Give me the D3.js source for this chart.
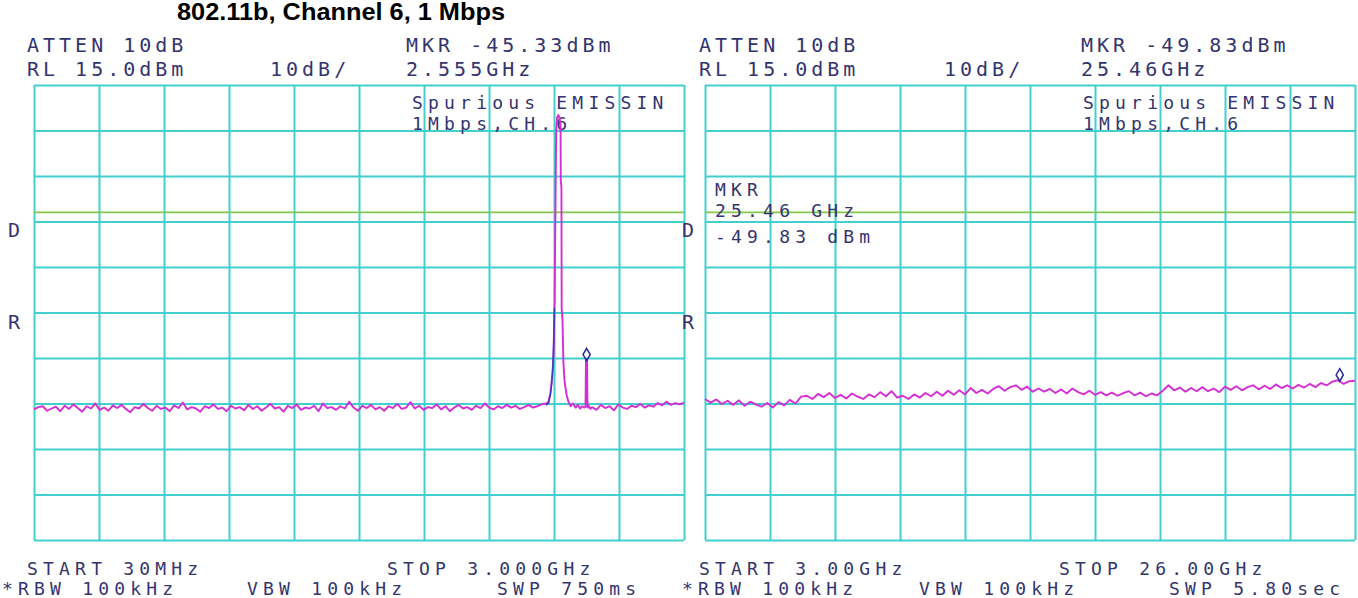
<!DOCTYPE html>
<html>
<head>
<meta charset="utf-8">
<script src="https://cdn.jsdelivr.net/npm/d3@7"></script>
<style>
  body { margin: 0; background: #fff; }
  .scr { font-family: "DejaVu Sans Mono", monospace; font-size: 20px; letter-spacing: 4px; fill: #34346f; }
  .tight { font-size: 18px; letter-spacing: 5.2px; }
</style>
</head>
<body>
<div id="chart"></div>
<script>
// Left sweep: 30 MHz - 3 GHz, noise floor read every 20 MHz (dBm).
const leftFloorStart = 30, leftFloorStep = 20;
const leftFloor = [
  -56.3,-55.8,-55.6,-56.6,-56.1,-55.7,-56.7,-55.5,-56.2,-55.2,
  -56.0,-56.8,-55.6,-56.1,-55.0,-56.4,-55.9,-56.6,-55.4,-56.0,
  -55.3,-56.2,-56.9,-55.8,-56.1,-55.1,-56.0,-56.6,-55.5,-56.2,
  -55.9,-56.7,-55.4,-56.0,-54.8,-56.3,-55.8,-56.1,-56.8,-55.6,
  -56.0,-55.2,-56.2,-55.9,-56.7,-55.5,-56.1,-55.8,-56.5,-55.3,
  -56.2,-55.6,-56.6,-55.9,-55.1,-56.1,-55.8,-56.8,-55.5,-56.0,
  -55.2,-56.4,-55.9,-56.1,-55.5,-56.7,-55.0,-56.0,-55.8,-56.4,
  -55.6,-56.1,-54.6,-55.9,-56.6,-55.5,-56.0,-55.3,-56.3,-55.8,
  -56.6,-55.6,-56.0,-55.1,-56.2,-55.9,-54.7,-56.1,-55.5,-56.4,
  -55.8,-56.0,-55.2,-56.3,-55.6,-56.7,-55.9,-55.3,-56.1,-55.8,
  -56.4,-55.5,-56.0,-55.0,-55.9,-56.3,-55.6,-56.0,-55.3,-55.9,
  -55.5,-56.2,-55.8,-55.3,-55.9,-55.6,-55.2,-55.0
];

// Channel 6 carrier and the marked spur, [MHz, dBm].
const leftCarrier = [
  [2381,-54.6],[2390,-52.5],[2399,-48.5],[2404,-44],[2409,-32],[2413,-10],
  [2416,5],[2420,7.8],[2426,8.4],[2432,7.6],[2436,6],[2437,-6],[2440,-7.5],
  [2441,-34],[2445,-37],[2449,-46],[2454,-50],[2463,-53],[2472,-54.6],
  [2482,-55.6],[2492,-55.0],[2505,-55.9],[2515,-55.3],[2525,-56.1],
  [2535,-55.6],[2545,-55.9],[2550,-55.7],[2552,-45.3],[2557,-45.3],
  [2559,-55.9],[2565,-55.5],[2572,-56.2]
];

// Clear-write trace, visible on the carrier's rising edge.
const leftEdge = [
  [2370,-55.4],[2381,-54.9],[2390,-53],[2396,-50.5],[2401,-46.5],[2405,-41],[2408,-34]
];

const leftTailStart = 2580, leftTailStep = 20;
const leftTail = [
  -55.8,-56.4,-55.3,-56.0,-55.6,-56.5,-55.2,-55.9,-56.2,-55.5,
  -55.8,-55.1,-55.9,-55.4,-55.7,-54.9,-55.4,-54.6,-55.3,-54.9,
  -55.2,-54.8
];

// Right sweep: 3 - 26 GHz, read every 0.2 GHz (dBm).
const rightStart = 3.0, rightStep = 0.2;
const rightTrace = [
  -54.0,-54.8,-54.1,-55.1,-54.4,-55.3,-54.3,-55.5,-54.6,-55.2,
  -55.7,-54.9,-55.9,-54.7,-55.4,-54.2,-55.0,-53.5,-53.3,-54.0,
  -52.9,-53.6,-52.7,-53.8,-53.1,-53.9,-52.8,-53.5,-54.0,-53.0,
  -53.6,-52.5,-53.4,-52.3,-53.7,-53.3,-54.0,-53.0,-53.7,-52.7,
  -53.4,-52.4,-53.3,-52.2,-53.1,-52.1,-53.0,-51.6,-52.7,-52.0,
  -52.8,-51.8,-51.2,-52.2,-51.4,-51.0,-52.0,-51.3,-52.4,-51.7,
  -52.4,-51.8,-52.7,-51.9,-52.8,-51.7,-52.5,-53.0,-52.2,-53.1,
  -52.5,-53.2,-52.6,-53.3,-52.7,-52.3,-53.2,-52.6,-53.4,-52.8,
  -53.2,-52.2,-51.0,-52.1,-51.5,-52.4,-51.6,-52.3,-51.4,-52.3,
  -51.7,-52.5,-51.3,-52.0,-51.2,-52.1,-51.4,-51.0,-51.9,-51.1,
  -51.8,-50.8,-51.6,-51.0,-51.7,-50.9,-51.5,-50.7,-51.4,-50.5,
  -51.0,-50.2,-49.9,-50.7,-50.1,-50.0
];

// Instrument settings and markers.
const refLevel = 15, dbPerDiv = 10, divisions = 10;
const displayLine = -13;
const leftMarker = [2555, -45.33];
const rightMarker = [25.46, -49.83];

// Screen annotations.
const leftHeader = ["ATTEN 10dB", "RL 15.0dBm", "10dB/", "MKR -45.33dBm", "2.555GHz"];
const rightHeader = ["ATTEN 10dB", "RL 15.0dBm", "10dB/", "MKR -49.83dBm", "25.46GHz"];
const screenNote = ["Spurious EMISSIN", "1Mbps,CH.6"];
const leftFooter = ["START 30MHz", "STOP 3.000GHz", "*RBW 100kHz", "VBW 100kHz", "SWP 750ms"];
const rightFooter = ["START 3.00GHz", "STOP 26.00GHz", "*RBW 100kHz", "VBW 100kHz", "SWP 5.80sec"];
const rightReadout = ["MKR", "25.46 GHz", "-49.83 dBm"];
const sideLabels = ["D", "R"];
const title = "802.11b, Channel 6, 1 Mbps";

// Layout.
const width = 1358, height = 598;
const gridTop = 85, gridBottom = 540;
const gridColor = "#42cfcf", traceColor = "#d42ed4";

let svg = d3.select("#chart")
.append("svg")
.attr("width", width)
.attr("height", height);

svg.append("rect").attr("width", width).attr("height", height).style("fill", "#fff");

let y = d3.scaleLinear()
.domain([refLevel, refLevel - dbPerDiv * divisions])
.range([gridTop, gridBottom]);

const panels = [
  {
    x0: 34, x1: 684, domain: [30, 3000],
    points: leftFloor.map((v, i) => [leftFloorStart + i * leftFloorStep, v])
      .concat(leftCarrier, leftTail.map((v, i) => [leftTailStart + i * leftTailStep, v])),
    edge: leftEdge, marker: leftMarker,
    header: leftHeader, headerPos: [[27,52],[27,76],[270,76],[406,52],[406,76]],
    notePos: [[412,109],[412,130]],
    footer: leftFooter, footerPos: [[27,575],[387,575],[2,595],[247,595],[497,595]],
    sidePos: [[8,237],[8,329]]
  },
  {
    x0: 705, x1: 1355, domain: [3, 26],
    points: rightTrace.map((v, i) => [rightStart + i * rightStep, v]),
    edge: null, marker: rightMarker,
    header: rightHeader, headerPos: [[699,52],[699,76],[944,76],[1081,52],[1081,76]],
    notePos: [[1083,109],[1083,130]],
    footer: rightFooter, footerPos: [[699,575],[1059,575],[682,595],[919,595],[1169,595]],
    sidePos: [[682,237],[682,329]]
  }
];

// Title over the left screen.
svg.append("text")
.attr("x", 177)
.attr("y", 20)
.attr("textLength", 328)
.attr("lengthAdjust", "spacingAndGlyphs")
.style("font-family", "'Liberation Sans', Arial, sans-serif")
.style("font-weight", "bold")
.style("font-size", "23px")
.style("fill", "#000")
.text(title);

panels.forEach(p => {
  let x = d3.scaleLinear().domain(p.domain).range([p.x0, p.x1]);
  let g = svg.append("g");

  // Graticule: 10 x 10 divisions.
  let xTicks = d3.range(divisions + 1).map(k => p.domain[0] + k * (p.domain[1] - p.domain[0]) / divisions);
  let yTicks = d3.range(divisions + 1).map(k => refLevel - k * dbPerDiv);

  g.append("g")
  .attr("transform", "translate(0," + gridBottom + ")")
  .call(d3.axisBottom(x).tickValues(xTicks).tickSize(-(gridBottom - gridTop)).tickFormat(""))
  .select(".domain").remove();

  g.append("g")
  .attr("transform", "translate(" + p.x0 + ",0)")
  .call(d3.axisLeft(y).tickValues(yTicks).tickSize(-(p.x1 - p.x0)).tickFormat(""))
  .select(".domain").remove();

  g.selectAll(".tick line")
  .attr("stroke", gridColor)
  .attr("stroke-width", 2);

  // Display line.
  g.append("line")
  .attr("x1", p.x0).attr("x2", p.x1)
  .attr("y1", y(displayLine)).attr("y2", y(displayLine))
  .attr("stroke", "#82c84a")
  .attr("stroke-width", 1.6);

  // Annotations.
  const addText = (list, pos, cls) => {
    g.selectAll(null)
    .data(list)
    .enter()
    .append("text")
    .attr("class", cls)
    .attr("x", (d, i) => pos[i][0])
    .attr("y", (d, i) => pos[i][1])
    .text(d => d);
  };
  addText(p.header, p.headerPos, "scr");
  addText(screenNote, p.notePos, "scr tight");
  addText(p.footer, p.footerPos, "scr tight");
  addText(sideLabels, p.sidePos, "scr");

  // Trace.
  let line = d3.line().x(d => x(d[0])).y(d => y(d[1]));

  g.append("path")
  .datum(p.points)
  .attr("d", line)
  .attr("fill", "none")
  .attr("stroke", traceColor)
  .attr("stroke-width", 1.9)
  .attr("stroke-linejoin", "round");

  if (p.edge) {
    g.append("path")
    .datum(p.edge)
    .attr("d", line)
    .attr("fill", "none")
    .attr("stroke", "#3a3ab4")
    .attr("stroke-width", 1.4);
  }

  // Marker diamond sits just above the marked point.
  g.append("path")
  .attr("d", d3.symbol().type(d3.symbolDiamond).size(45))
  .attr("transform", "translate(" + x(p.marker[0]) + "," + (y(p.marker[1]) - 5) + ")")
  .attr("fill", "none")
  .attr("stroke", "#2a2a9a")
  .attr("stroke-width", 1.5);
});

// Marker readout on the right screen.
svg.selectAll(null)
.data(rightReadout)
.enter()
.append("text")
.attr("class", "scr tight")
.attr("x", 715)
.attr("y", (d, i) => [196, 217, 243][i])
.text(d => d);
</script>
</body>
</html>
